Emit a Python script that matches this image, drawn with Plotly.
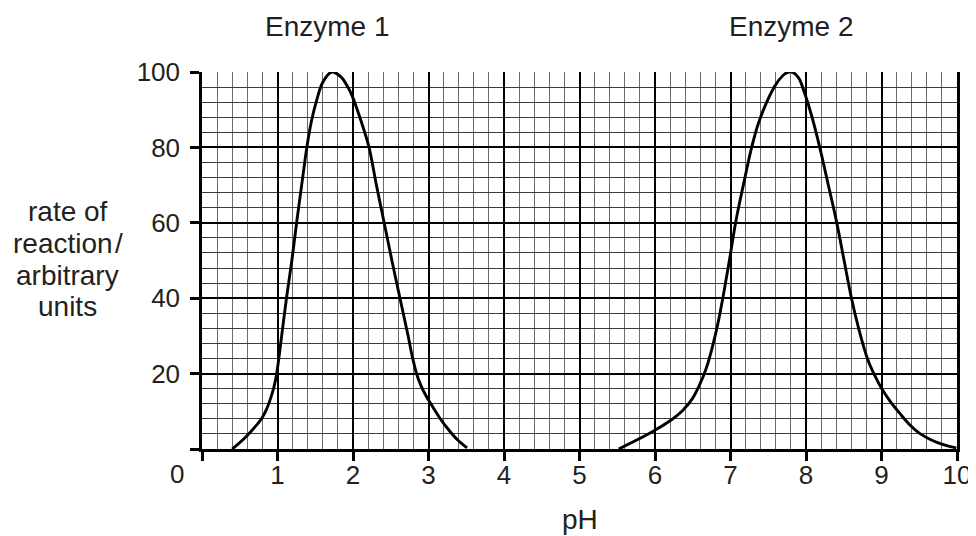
import plotly.graph_objects as go

# Enzyme 1 curve (pH, rate)
enz1_ph = [0.40, 0.59, 0.79, 0.86, 0.916, 0.955, 0.99, 1.055, 1.12, 1.19, 1.255, 1.32, 1.39, 1.45, 1.52, 1.60, 1.72, 1.84, 1.92, 1.99, 2.10, 2.21, 2.31, 2.41, 2.515, 2.62, 2.73, 2.78, 2.84, 2.90, 2.97, 3.03, 3.14, 3.25, 3.38, 3.51]
enz1_rate = [0.0, 3.4, 8.1, 10.8, 13.9, 16.6, 20.1, 30.0, 40.2, 50.0, 60.3, 70.0, 80.2, 87.0, 92.6, 97.3, 100.0, 98.7, 96.4, 93.6, 87.4, 80.2, 70.0, 60.3, 50.0, 40.2, 30.0, 25.0, 20.1, 16.8, 14.0, 12.0, 8.5, 5.5, 2.5, 0.3]

# Enzyme 2 curve (pH, rate)
enz2_ph = [5.52, 5.75, 6.00, 6.20, 6.37, 6.50, 6.59, 6.68, 6.75, 6.83, 6.90, 6.985, 7.07, 7.17, 7.28, 7.37, 7.49, 7.61, 7.72, 7.81, 7.90, 7.98, 8.08, 8.18, 8.29, 8.40, 8.50, 8.60, 8.71, 8.82, 8.91, 9.00, 9.12, 9.24, 9.37, 9.50, 9.64, 9.77, 9.90, 9.99]
enz2_rate = [0.0, 2.3, 5.0, 7.5, 10.3, 13.5, 17.0, 21.5, 26.3, 33.0, 40.2, 50.0, 60.3, 70.0, 80.0, 86.4, 92.5, 97.0, 99.5, 100.0, 98.5, 94.5, 88.0, 80.2, 70.5, 60.7, 50.5, 40.2, 31.0, 23.6, 19.5, 16.1, 12.5, 9.5, 6.5, 4.2, 2.6, 1.5, 0.7, 0.3]

x_tick_vals = list(range(0, 11))
x_tick_text = [""] + [str(v) for v in range(1, 11)]
y_tick_vals = [0, 20, 40, 60, 80, 100]
y_tick_text = ["", "20", "40", "60", "80", "100"]

series_labels = ["Enzyme 1", "Enzyme 2"]
series_label_x = [1.66, 7.81]
y_title_lines = ["rate of", "reaction\u200a/", "arbitrary", "units"]
x_title = "pH"

FONT = "Liberation Sans, Arial, Helvetica, sans-serif"
TXT = "#231f20"
FS = 28
TFS = 26

fig = go.Figure()
for xs, ys in [(enz1_ph, enz1_rate), (enz2_ph, enz2_rate)]:
    fig.add_trace(go.Scatter(x=xs, y=ys, mode="lines",
                             line=dict(color="black", width=2.9, shape="spline", smoothing=1.0),
                             showlegend=False, hoverinfo="skip"))

fig.update_layout(
    width=968, height=528,
    margin=dict(l=194, r=19, t=64, b=87),
    paper_bgcolor="white", plot_bgcolor="white",
    font=dict(family=FONT, size=FS, color=TXT),
    xaxis=dict(range=[0, 10], tickvals=x_tick_vals, ticktext=x_tick_text,
               showgrid=True, gridcolor="black", gridwidth=1.6,
               minor=dict(dtick=0.2, showgrid=True, gridcolor="#6a6a6a", gridwidth=1),
               showline=True, linecolor="black", linewidth=2.5,
               ticks="outside", ticklen=9, tickwidth=2.5, tickcolor="black",
               ticklabelstandoff=-8,
               zeroline=False, fixedrange=True, automargin=False,
               tickfont=dict(size=TFS, color=TXT)),
    yaxis=dict(range=[0, 100], tickvals=y_tick_vals, ticktext=y_tick_text,
               showgrid=True, gridcolor="black", gridwidth=1.6,
               minor=dict(dtick=4, showgrid=True, gridcolor="#3a3a3a", gridwidth=1),
               showline=True, linecolor="black", linewidth=2.5, mirror=True,
               ticks="outside", ticklen=9, tickwidth=2.5, tickcolor="black",
               ticklabelstandoff=5,
               zeroline=False, fixedrange=True, automargin=False,
               tickfont=dict(size=TFS, color=TXT)),
)

fig.add_annotation(text="0", x=0, y=0, xref="x", yref="y", xanchor="center", yanchor="middle",
                   xshift=-25, yshift=-25, showarrow=False, font=dict(size=TFS, color=TXT))
fig.add_annotation(text=x_title, x=5, y=-0.186, xref="x", yref="paper", xanchor="center", yanchor="middle",
                   showarrow=False, font=dict(size=FS, color=TXT))
for line, yp in zip(y_title_lines, [0.631, 0.546, 0.4615, 0.379]):
    fig.add_annotation(text=line, x=-0.1775, y=yp, xref="paper", yref="paper",
                       xanchor="center", yanchor="middle", showarrow=False,
                       font=dict(size=FS, color=TXT))
for lab, lx in zip(series_labels, series_label_x):
    fig.add_annotation(text=lab, x=lx, y=1.12, xref="x", yref="paper",
                       xanchor="center", yanchor="middle", showarrow=False,
                       font=dict(size=FS, color=TXT))

fig.write_html("out.html")
